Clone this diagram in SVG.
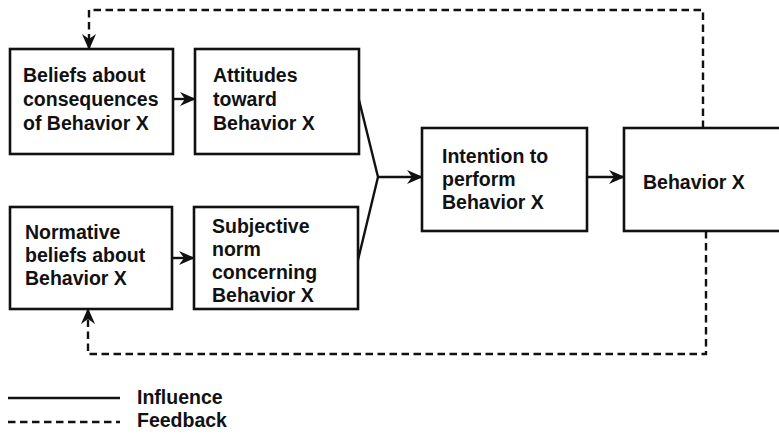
<svg xmlns="http://www.w3.org/2000/svg" width="779" height="439" viewBox="0 0 779 439">
<style>
.box{fill:#fff;stroke:#111;stroke-width:2.6}
.t{font-family:"Liberation Sans",Arial,sans-serif;font-weight:bold;font-size:19.5px;fill:#111}
.solid{fill:none;stroke:#111;stroke-width:2.4}
.dash{fill:none;stroke:#111;stroke-width:2.4;stroke-dasharray:7.5 4.5}
</style>
<defs>
<marker id="ah" viewBox="0 0 16 14" refX="15" refY="7" markerWidth="16" markerHeight="14" markerUnits="userSpaceOnUse" orient="auto">
<path d="M0,0 L16,7 L0,14 L5,7 z" fill="#111"/>
</marker>
</defs>
<g id="connectors">
<line class="solid" x1="173" y1="99" x2="195" y2="99" marker-end="url(#ah)"/>
<line class="solid" x1="172" y1="258" x2="194" y2="258" marker-end="url(#ah)"/>
<polyline class="solid" points="359,100 378,177 358,260"/>
<line class="solid" x1="378" y1="177" x2="422" y2="177" marker-end="url(#ah)"/>
<line class="solid" x1="587" y1="177" x2="624" y2="177" marker-end="url(#ah)"/>
<polyline class="dash" points="703,128 703,10 89,10 89,49" marker-end="url(#ah)"/>
<polyline class="dash" points="706,231 706,354 88,354 88,309" marker-end="url(#ah)"/>
</g>
<g id="n1"><rect class="box" x="10" y="49" width="163" height="105"/>
<text class="t" x="23" y="82">Beliefs about</text><text class="t" x="23" y="106">consequences</text><text class="t" x="23" y="130">of Behavior X</text></g>
<g id="n2"><rect class="box" x="195" y="49" width="164" height="105"/>
<text class="t" x="213" y="82">Attitudes</text><text class="t" x="213" y="106">toward</text><text class="t" x="213" y="130">Behavior X</text></g>
<g id="n3"><rect class="box" x="10" y="207" width="162" height="102"/>
<text class="t" x="25" y="239">Normative</text><text class="t" x="25" y="262">beliefs about</text><text class="t" x="25" y="285">Behavior X</text></g>
<g id="n4"><rect class="box" x="194" y="207" width="164" height="102"/>
<text class="t" x="212" y="233">Subjective</text><text class="t" x="212" y="256">norm</text><text class="t" x="212" y="279">concerning</text><text class="t" x="212" y="302">Behavior X</text></g>
<g id="n5"><rect class="box" x="422" y="128" width="165" height="103"/>
<text class="t" x="442" y="163">Intention to</text><text class="t" x="442" y="186">perform</text><text class="t" x="442" y="209">Behavior X</text></g>
<g id="n6"><rect class="box" x="624" y="128" width="180" height="103"/>
<text class="t" x="643" y="189">Behavior X</text></g>
<g id="legend">
<line class="solid" x1="8" y1="398" x2="120" y2="398"/>
<text class="t" x="137" y="404">Influence</text>
<line class="dash" x1="8" y1="422" x2="120" y2="422"/>
<text class="t" x="137" y="427">Feedback</text>
</g>
</svg>
